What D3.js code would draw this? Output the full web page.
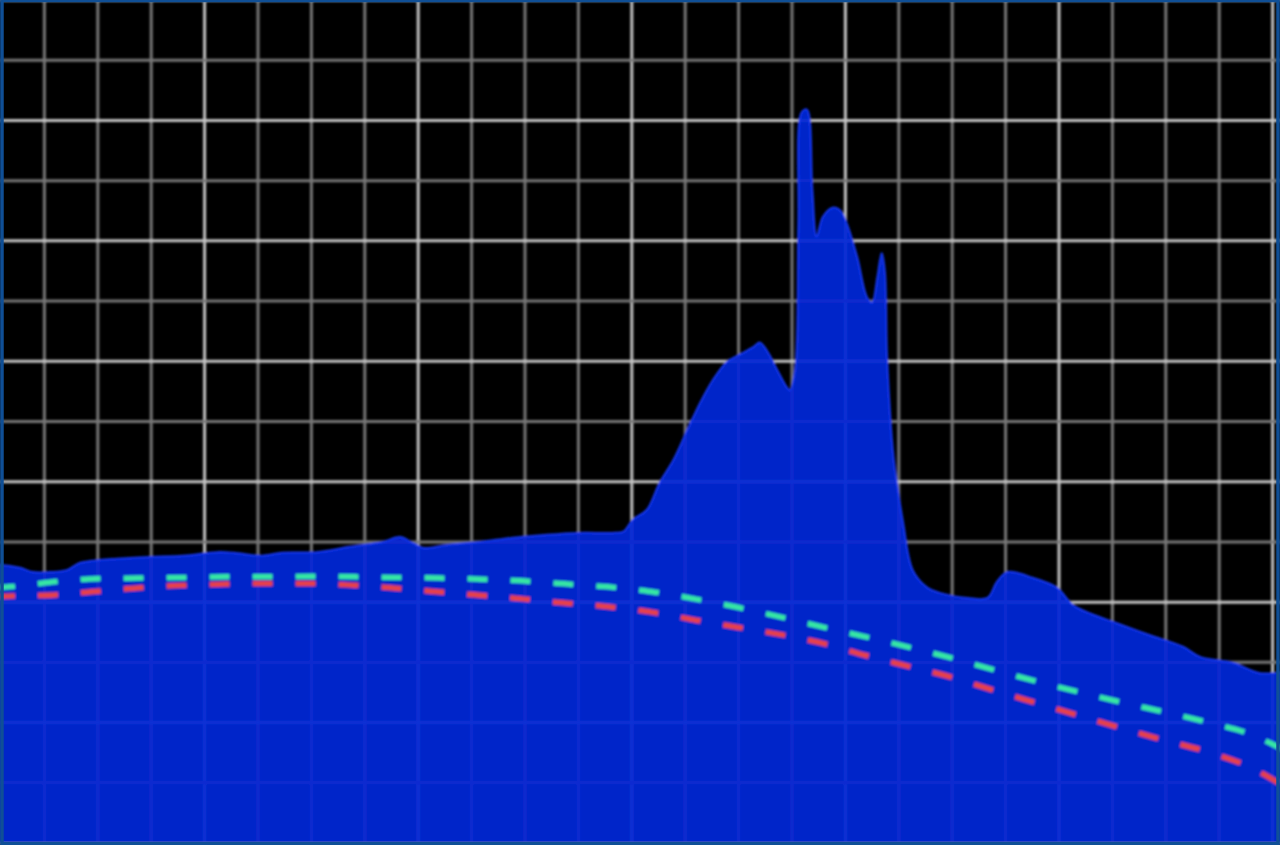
<!DOCTYPE html>
<html>
<head>
<meta charset="utf-8">
<script src="https://cdn.jsdelivr.net/npm/d3@7"></script>
<style>
  html, body { margin: 0; padding: 0; background: #000; }
  #spectrum { width: 1280px; height: 845px; }
</style>
</head>
<body>
<div id="spectrum"></div>
<script>
'use strict'

// measured spectrum (top edge of the blue area)
const specX = [0, 8, 27, 39, 55, 71, 83, 102, 118, 149, 180, 212, 227, 252, 273, 305, 336, 367, 383, 395, 405, 427, 458, 489, 521, 551, 582, 592, 601, 614, 626, 639, 652, 664, 676, 689, 701, 714, 720, 727, 736, 745, 748, 753, 756, 759, 764, 769, 773, 779, 788, 795, 801, 811, 820, 825, 830, 834, 837, 839, 845, 854, 863, 876, 889, 914, 933, 942, 952, 976, 998, 1013, 1032, 1054, 1085, 1116, 1132, 1163, 1188, 1210]
const specY = [462, 462, 457, 450, 450, 453, 465, 470, 472, 475, 477, 483, 482, 477, 482, 483, 492, 500, 508, 498, 490, 495, 500, 507, 512, 515, 515, 517, 537, 553, 598, 636, 686, 731, 769, 799, 811, 824, 831, 816, 786, 757, 752, 786, 1030, 1213, 1218, 1085, 1007, 1040, 1055, 1051, 1030, 973, 907, 897, 940, 980, 947, 807, 641, 532, 453, 425, 415, 407, 407, 434, 450, 440, 424, 395, 379, 365, 345, 326, 309, 299, 282, 284]

// reference curves (dashed)
const refX = [0, 21, 60, 100, 140, 180, 220, 260, 300, 340, 380, 420, 460, 500, 540, 580, 620, 660, 700, 740, 780, 820, 860, 900, 940, 980, 1020, 1060, 1100, 1140, 1180, 1210]
const cyanY = [424, 426, 434, 439, 440, 441, 442, 442, 443, 442, 441, 440, 438, 435, 430, 425, 417, 405, 391, 375, 358, 342, 325, 307, 287, 268, 250, 233, 217, 200, 180, 155]
const redY = [409, 410, 412, 418, 424, 428, 430, 431, 431, 428, 423, 417, 411, 405, 398, 392, 383, 370, 358, 346, 331, 311, 293, 275, 253, 232, 211, 190, 170, 151, 125, 95]

// grid ticks
const xTicks = d3.range(0, 1201, 50)
const yTicks = d3.range(0, 1401, 100)

////////////////////////////////////
//////////// svg setup /////////////
////////////////////////////////////

const svgWidth = 1280
const svgHeight = 845

const svg = d3.select('#spectrum')
    .append('svg')
    .attr('width', svgWidth)
    .attr('height', svgHeight)
    .attr('viewBox', `0 0 ${svgWidth} ${svgHeight}`)

// soft look, like the photographed screen
svg.append('defs')
    .append('filter')
    .attr('id', 'soft')
    .append('feGaussianBlur')
    .attr('stdDeviation', 0.9)

svg.append('rect')
    .attr('width', svgWidth)
    .attr('height', svgHeight)
    .attr('fill', '#000')

const plot = svg.append('g').attr('filter', 'url(#soft)')

////////////////////////////////////
//////////// Scales ////////////////
////////////////////////////////////

const x = d3.scaleLinear()
    .domain([0, 1200])
    .range([-9, 1272.6])

const y = d3.scaleLinear()
    .domain([0, 1400])
    .range([843, 0])

////////////////////////////////////
//////////// Grid //////////////////
////////////////////////////////////

const grid = plot.append('g').attr('class', 'grid')

grid.selectAll('.vline')
    .data(xTicks)
    .join('line')
    .attr('class', 'vline')
    .attr('x1', d => x(d))
    .attr('x2', d => x(d))
    .attr('y1', 0)
    .attr('y2', svgHeight)
    .attr('stroke', d => d % 200 === 0 ? '#c4c4c4' : '#777')
    .attr('stroke-width', 3)

grid.selectAll('.hline')
    .data(yTicks)
    .join('line')
    .attr('class', 'hline')
    .attr('x1', 0)
    .attr('x2', svgWidth)
    .attr('y1', d => y(d))
    .attr('y2', d => y(d))
    .attr('stroke', d => d % 200 === 0 ? '#c4c4c4' : '#777')
    .attr('stroke-width', 3)

////////////////////////////////////
//////////// Spectrum //////////////
////////////////////////////////////

const specData = specX.map((d, i) => ({ x: d, y: specY[i] }))

const area = d3.area()
    .x(d => x(d.x))
    .y0(y(0))
    .y1(d => y(d.y))
    .curve(d3.curveCatmullRom.alpha(0.5))

plot.append('path')
    .datum(specData)
    .attr('d', area)
    .attr('fill', '#0526d6')
    .attr('fill-opacity', 0.94)

const topLine = d3.line()
    .x(d => x(d.x))
    .y(d => y(d.y))
    .curve(d3.curveCatmullRom.alpha(0.5))

plot.append('path')
    .datum(specData)
    .attr('d', topLine)
    .attr('fill', 'none')
    .attr('stroke', '#1438f2')
    .attr('stroke-width', 2)

////////////////////////////////////
//////////// Dashed curves /////////
////////////////////////////////////

const refLine = d3.line()
    .x(d => x(d.x))
    .y(d => y(d.y))
    .curve(d3.curveMonotoneX)

const refs = [
    { name: 'cyan', values: cyanY, color: '#35e6a4' },
    { name: 'red', values: redY, color: '#e5404c' }
]

refs.forEach(r => {
    plot.append('path')
        .datum(refX.map((d, i) => ({ x: d, y: r.values[i] })))
        .attr('class', `ref-${r.name}`)
        .attr('d', refLine)
        .attr('fill', 'none')
        .attr('stroke', r.color)
        .attr('stroke-width', 5.5)
        .attr('stroke-dasharray', '20 23')
        .attr('stroke-dashoffset', -4)
})

////////////////////////////////////
//////////// Frame /////////////////
////////////////////////////////////

svg.append('rect')
    .attr('x', 2)
    .attr('y', 0.5)
    .attr('width', svgWidth - 4)
    .attr('height', svgHeight - 2)
    .attr('fill', 'none')
    .attr('stroke', '#0f4f96')
    .attr('stroke-width', 3.5)

</script>
</body>
</html>
